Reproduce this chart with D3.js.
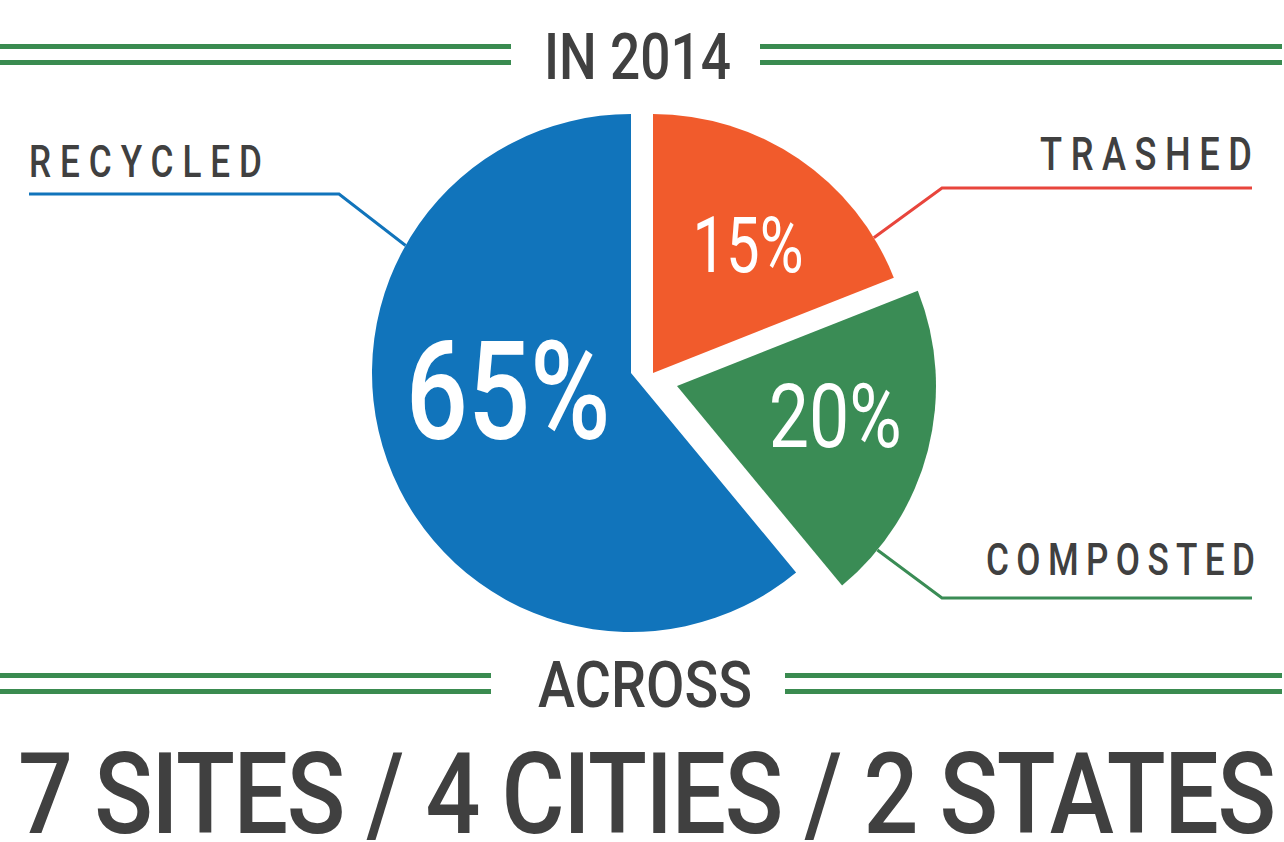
<!DOCTYPE html>
<html>
<head>
<meta charset="utf-8">
<script src="https://cdn.jsdelivr.net/npm/d3@7"></script>
<style>
  html,body{margin:0;padding:0;background:#fff;}
  text{font-family:Roboto,"Noto Sans",sans-serif;}
</style>
</head>
<body>
<div id="chart"></div>
<script>
// slices in drawing order, clockwise from 12 o'clock
const categories=["TRASHED","COMPOSTED","RECYCLED"];
const shares=[19,20,61];            // slice sizes as drawn in the picture
const pctLabels=["15%","20%","65%"]; // what the slices are labelled
const headline="IN 2014";
const subline="ACROSS";
const footline="7 SITES / 4 CITIES / 2 STATES";

(function(){
  const W=1284,H=842;
  const ink="#404040",rule="#3a8b50";
  const colors=["#f15b2c","#3a8c55","#1174bb"];
  const leadColors=["#e8453c","#3a8c55","#1174bb"];
  const R=259;
  const center=[631,373];
  // exploded slices: origin shift per slice
  const shift=[[22,0],[46,13],[0,0]];
  // inner % labels: polar position from slice origin, cap height, width
  const pctPos=[{r:160,a:36.4,cap:55,w:111},{r:161,a:100.7,cap:63,w:133},{r:124,a:262,cap:98,w:205}];
  // leader lines: angle on rim, knee, end, label box
  const leaders=[
    {a:58.5,knee:[942,188],end:1252,lx:1040,lw:212,ly:170,cap:33},
    {a:129.3,knee:[942,598],end:1252,lx:986,lw:269,ly:575,cap:32},
    {a:299.5,knee:[339,194],end:29,lx:29,lw:233,ly:177,cap:32}
  ];
  const capRatio=0.711;
  const squeeze=0.78; // narrows the glyphs of the spaced-out labels
  const rad=d=>d*Math.PI/180;

  const svg=d3.select("#chart").append("svg").attr("width",W).attr("height",H);
  svg.append("rect").attr("width",W).attr("height",H).attr("fill","#fff");

  const pie=d3.pie().sort(null).value(d=>d);
  const arcs=pie(shares);
  const arc=d3.arc().innerRadius(0).outerRadius(R);

  const slices=svg.selectAll(".slice").data(arcs).join("g")
    .attr("class","slice")
    .attr("transform",(d,i)=>`translate(${center[0]+shift[i][0]},${center[1]+shift[i][1]})`);
  slices.append("path").attr("d",arc).attr("fill",(d,i)=>colors[i]);

  slices.append("text")
    .attr("x",(d,i)=>pctPos[i].r*Math.sin(rad(pctPos[i].a)))
    .attr("y",(d,i)=>-pctPos[i].r*Math.cos(rad(pctPos[i].a))+pctPos[i].cap/2)
    .attr("text-anchor","middle")
    .attr("font-size",(d,i)=>pctPos[i].cap/capRatio)
    .attr("font-weight",(d,i)=>i===2?500:400)
    .attr("textLength",(d,i)=>pctPos[i].w)
    .attr("lengthAdjust","spacingAndGlyphs")
    .attr("fill","#fff")
    .text((d,i)=>pctLabels[i]);

  // leader lines + category labels
  leaders.forEach((l,i)=>{
    const ox=center[0]+shift[i][0],oy=center[1]+shift[i][1];
    const sx=ox+R*Math.sin(rad(l.a)),sy=oy-R*Math.cos(rad(l.a));
    svg.append("path")
      .attr("d",d3.line()([[sx,sy],l.knee,[l.end,l.knee[1]]]))
      .attr("fill","none").attr("stroke",leadColors[i]).attr("stroke-width",3);
    svg.append("text")
      .attr("transform",`translate(${l.lx},${l.ly}) scale(${squeeze},1)`)
      .attr("font-size",l.cap/capRatio)
      .attr("font-weight",500)
      .attr("textLength",l.lw/squeeze).attr("lengthAdjust","spacing")
      .attr("fill",ink)
      .text(categories[i]);
  });

  // double green rules with centered caption
  function banner(txt,tx,ty,yTop,cap,tw,leftEnd,rightStart){
    [yTop+2.5,yTop+18.5].forEach(y=>{
      svg.append("line").attr("x1",0).attr("x2",leftEnd).attr("y1",y).attr("y2",y)
        .attr("stroke",rule).attr("stroke-width",5);
      svg.append("line").attr("x1",rightStart).attr("x2",1282).attr("y1",y).attr("y2",y)
        .attr("stroke",rule).attr("stroke-width",5);
    });
    svg.append("text")
      .attr("x",tx).attr("y",ty)
      .attr("font-size",cap/capRatio)
      .attr("font-weight",500)
      .attr("textLength",tw).attr("lengthAdjust","spacingAndGlyphs")
      .attr("fill",ink)
      .text(txt);
  }
  banner(headline,544,79,44,46,187,511,760);
  banner(subline,538,707,673,46,214,491,785);

  svg.append("text")
    .attr("transform",`translate(18,833) scale(0.86,1)`)
    .attr("font-size",80/capRatio)
    .attr("font-weight",500)
    .attr("textLength",1258/0.86).attr("lengthAdjust","spacing")
    .attr("fill",ink)
    .text(footline);
})();
</script>
</body>
</html>
